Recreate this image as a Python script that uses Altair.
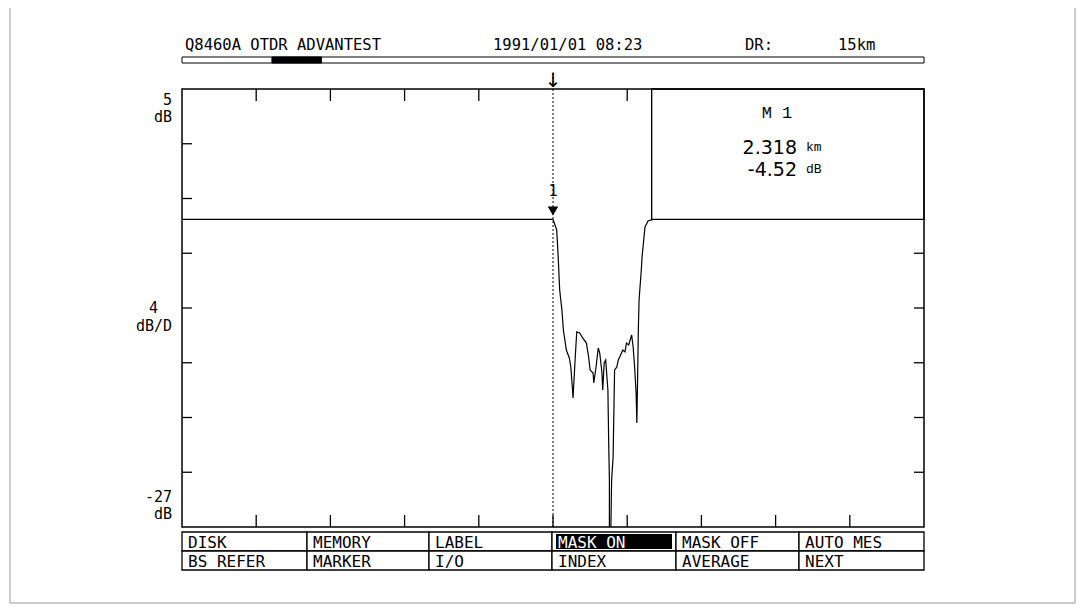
import altair as alt
import pandas as pd

# ---------------- data ----------------
trace_km = [1.818, 2.318, 2.323, 2.325, 2.327, 2.330, 2.332, 2.336, 2.340, 2.342,
            2.344, 2.345, 2.348, 2.350, 2.354, 2.358, 2.363, 2.366, 2.368, 2.372,
            2.373, 2.376, 2.379, 2.381, 2.384, 2.385, 2.387, 2.389, 2.392, 2.393,
            2.394, 2.394, 2.396, 2.397, 2.399, 2.401, 2.404, 2.406, 2.408, 2.412,
            2.415, 2.417, 2.420, 2.422, 2.424, 2.426, 2.428, 2.430, 2.431, 2.432,
            2.433, 2.434, 2.437, 2.438, 2.442, 2.446, 2.453, 2.818]
trace_db = [-4.52, -4.52, -5.30, -7.27, -9.69, -11.15, -12.61, -14.07, -14.65, -15.31,
            -16.77, -17.58, -14.58, -12.75, -12.83, -13.19, -13.56, -14.58, -15.53, -15.75,
            -16.48, -15.31, -13.92, -14.29, -15.75, -16.99, -15.02, -14.80, -16.99, -20.64,
            -23.57, -27.0, -27.0, -23.57, -21.89, -15.53, -15.31, -14.80, -14.58, -14.07,
            -14.21, -13.56, -13.70, -13.34, -12.97, -13.85, -15.31, -17.21, -19.40, -16.26,
            -12.61, -10.42, -8.22, -7.27, -5.08, -4.64, -4.52, -4.52]

marker_km = 2.318
marker_db = -4.52
marker_label = "1"
x_domain = [1.818, 2.818]
y_domain = [-27, 5]
dr_km = 15
box_x_start = 2.451

x_ticks_bottom = [1.918, 2.018, 2.118, 2.218, 2.318, 2.418, 2.518, 2.618, 2.718]
x_ticks_top = [1.918, 2.018, 2.118, 2.218, 2.418]
y_ticks_left = [1, -3, -7, -11, -15, -19, -23]
y_ticks_right = [-7, -11, -15, -19, -23]

header_texts = ["Q8460A OTDR ADVANTEST", "1991/01/01 08:23", "DR:", "15km"]
left_labels = ["5", "dB", "4", "dB/D", "-27", "dB"]
box_title = "M 1"
box_dist = "2.318"
box_dist_unit = "km"
box_level = "-4.52"
box_level_unit = "dB"
menu_row1 = ["DISK", "MEMORY", "LABEL", "MASK ON", "MASK OFF", "AUTO MES"]
menu_row2 = ["BS REFER", "MARKER", "I/O", "INDEX", "AVERAGE", "NEXT"]
active_item = "MASK ON"

# ---------------- layout ----------------
W, H = 742, 438
MONO = "DejaVu Sans Mono"

xs = alt.Scale(domain=x_domain, nice=False, zero=False)
ys = alt.Scale(domain=y_domain, nice=False, zero=False)

trace_df = pd.DataFrame({"km": trace_km, "db": trace_db, "i": range(len(trace_km))})

trace = alt.Chart(trace_df).mark_line(color="black", strokeWidth=1.2, clip=True).encode(
    x=alt.X("km:Q", scale=xs, axis=None),
    y=alt.Y("db:Q", scale=ys, axis=None),
    order="i:Q",
)

one = pd.DataFrame({"k": [0]})

# page border (scanned sheet)
page_border = alt.Chart(one).mark_rect(fill="white", stroke="#9a9a9a", strokeWidth=1).encode(
    x=alt.value(-172), x2=alt.value(893), y=alt.value(-85), y2=alt.value(514))

# ticks inside the frame
tb = alt.Chart(pd.DataFrame({"km": x_ticks_bottom})).mark_rule(color="black", strokeWidth=1.3).encode(
    x=alt.X("km:Q", scale=xs, axis=None), y=alt.value(H), y2=alt.value(H - 12))
tt = alt.Chart(pd.DataFrame({"km": x_ticks_top})).mark_rule(color="black", strokeWidth=1.3).encode(
    x=alt.X("km:Q", scale=xs, axis=None), y=alt.value(0), y2=alt.value(12))
tl = alt.Chart(pd.DataFrame({"db": y_ticks_left})).mark_rule(color="black", strokeWidth=1.3).encode(
    y=alt.Y("db:Q", scale=ys, axis=None), x=alt.value(0), x2=alt.value(10))
tr = alt.Chart(pd.DataFrame({"db": y_ticks_right})).mark_rule(color="black", strokeWidth=1.3).encode(
    y=alt.Y("db:Q", scale=ys, axis=None), x=alt.value(W), x2=alt.value(W - 10))

# plot frame
frame = alt.Chart(one).mark_rect(fill=None, stroke="black", strokeWidth=1.5).encode(
    x=alt.value(0), x2=alt.value(W), y=alt.value(0), y2=alt.value(H))

# marker box
box_df = pd.DataFrame({"x0": [box_x_start], "x1": [x_domain[1]], "y0": [y_domain[1]], "y1": [marker_db]})
box = alt.Chart(box_df).mark_rect(fill="white", stroke="black", strokeWidth=1.3).encode(
    x=alt.X("x0:Q", scale=xs, axis=None), x2="x1:Q",
    y=alt.Y("y0:Q", scale=ys, axis=None), y2="y1:Q")

def txt(text, x, y, size=15, align="left", font=MONO, color="black", weight="normal"):
    return alt.Chart(one).mark_text(text=text, align=align, baseline="middle", font=font,
                                    fontSize=size, color=color, fontWeight=weight).encode(
        x=alt.value(x), y=alt.value(y))

box_texts = [
    txt(box_title, 595, 24, size=17, align="center", font="Liberation Mono"),
    txt(box_dist, 615, 59, size=19, align="right", font="DejaVu Sans"),
    txt(box_dist_unit, 624, 58, size=13, align="left", font="Liberation Mono"),
    txt(box_level, 615, 81, size=19, align="right", font="DejaVu Sans"),
    txt(box_level_unit, 624, 80, size=13, align="left", font="Liberation Mono"),
]

# marker line, arrows and label
mk = pd.DataFrame({"km": [marker_km], "db": [marker_db]})
mline = alt.Chart(mk).mark_rule(color="black", strokeWidth=1, strokeDash=[2, 2]).encode(
    x=alt.X("km:Q", scale=xs, axis=None), y=alt.value(-16), y2=alt.value(H))
marrow = alt.Chart(mk).mark_text(text="↓", fontSize=20, font="DejaVu Sans", baseline="middle").encode(
    x=alt.X("km:Q", scale=xs, axis=None), y=alt.value(-8))
mtri = alt.Chart(mk).mark_point(shape="triangle-down", filled=True, color="black", size=110, opacity=1).encode(
    x=alt.X("km:Q", scale=xs, axis=None), y=alt.value(122))
mlab = alt.Chart(mk).mark_text(text=marker_label, fontSize=15, font=MONO, baseline="middle").encode(
    x=alt.X("km:Q", scale=xs, axis=None), y=alt.value(102))

# header and range bar
header_x = [3, 311, 563, 656]
header = [txt(t, hx, -44, size=15.5) for t, hx in zip(header_texts, header_x)]
bar_df = pd.DataFrame({"x0": [0, x_domain[0] / dr_km * W], "x1": [W, x_domain[1] / dr_km * W],
                       "f": ["white", "black"]})
bar = alt.Chart(bar_df).mark_rect(stroke="black", strokeWidth=1).encode(
    x=alt.X("x0:Q", scale=None), x2="x1:Q", y=alt.value(-32), y2=alt.value(-26),
    fill=alt.Fill("f:N", scale=None))

# left labels
left_x = [-10, -10, -24, -10, -10, -10]
left_y = [11, 28, 219, 237, 408, 425]
lefts = [txt(t, lx, ly, size=15, align="right") for t, lx, ly in zip(left_labels, left_x, left_y)]

# menu
col_edges = [0, 125, 247, 370, 494, 617, W]
row_edges = [443, 462, 481]
cells = []
labels = []
for r, row in enumerate([menu_row1, menu_row2]):
    for c, lab in enumerate(row):
        cells.append({"x0": col_edges[c], "x1": col_edges[c + 1],
                      "y0": row_edges[r], "y1": row_edges[r + 1]})
        labels.append({"x": col_edges[c] + 6, "y": (row_edges[r] + row_edges[r + 1]) / 2 + 1,
                       "t": lab, "col": "white" if lab == active_item else "black"})
cells_df = pd.DataFrame(cells)
menu_cells = alt.Chart(cells_df).mark_rect(fill="white", stroke="black", strokeWidth=1.3).encode(
    x=alt.X("x0:Q", scale=None), x2="x1:Q", y=alt.Y("y0:Q", scale=None), y2="y1:Q")
act = [i for i, l in enumerate(labels) if l["t"] == active_item][0]
hl_df = pd.DataFrame([{"x0": cells[act]["x0"] + 4, "x1": cells[act]["x1"] - 4,
                       "y0": cells[act]["y0"] + 2, "y1": cells[act]["y1"] - 2}])
menu_hl = alt.Chart(hl_df).mark_rect(fill="black").encode(
    x=alt.X("x0:Q", scale=None), x2="x1:Q", y=alt.Y("y0:Q", scale=None), y2="y1:Q")
menu_text = alt.Chart(pd.DataFrame(labels)).mark_text(align="left", baseline="middle", font=MONO,
                                                      fontSize=16).encode(
    x=alt.X("x:Q", scale=None), y=alt.Y("y:Q", scale=None), text="t:N",
    color=alt.Color("col:N", scale=None))

chart = alt.layer(
    page_border, tb, tt, tl, tr, trace, box, frame, *box_texts, mline, marrow, mtri, mlab,
    *header, bar, *lefts, menu_cells, menu_hl, menu_text,
).properties(
    width=W, height=H,
    autosize=alt.AutoSizeParams(type="none"),
    padding={"left": 174, "top": 81, "right": 152, "bottom": 77},
).configure(
    background="white",
    view=alt.ViewConfig(stroke=None),
)

chart.save("out.html", embed_options={"renderer": "svg", "actions": False})
